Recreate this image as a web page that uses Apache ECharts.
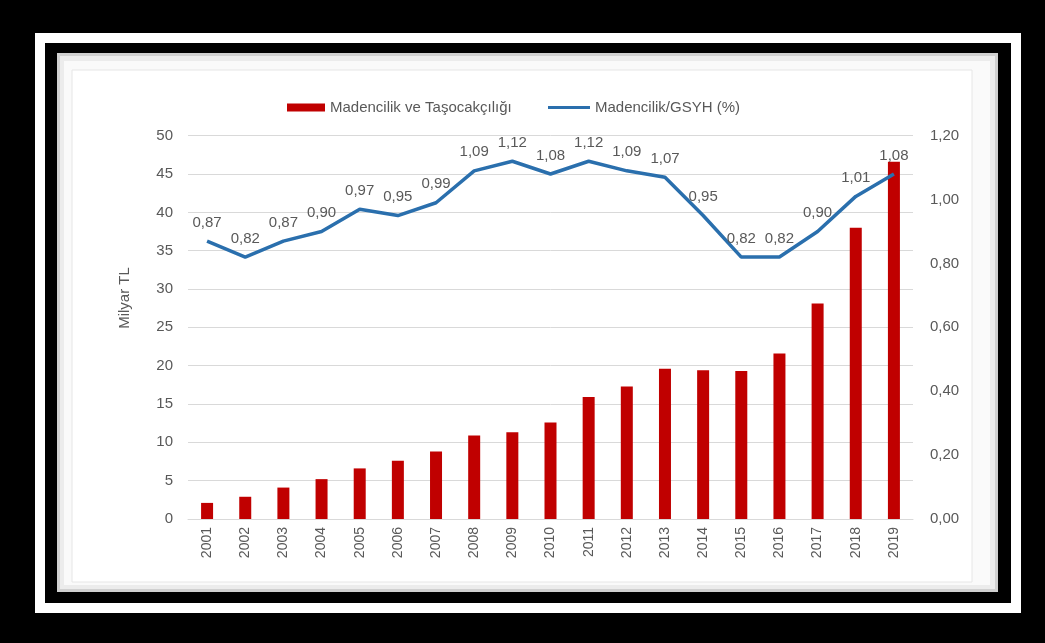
<!DOCTYPE html>
<html lang="tr" style="height: 100%">

<head>
  <meta charset="utf-8">
</head>

<body style="height: 100%; margin: 0; background: #000">
  <div id="container" style="width: 1045px; height: 643px"></div>
  <script type="text/javascript" src="https://fastly.jsdelivr.net/npm/echarts@6/dist/echarts.min.js"></script>
  <script type="text/javascript">
    var dom = document.getElementById('container');
    var myChart = echarts.init(dom, null, { renderer: 'canvas' });

    const years = ['2001', '2002', '2003', '2004', '2005', '2006', '2007', '2008', '2009', '2010',
      '2011', '2012', '2013', '2014', '2015', '2016', '2017', '2018', '2019'];
    // Milyar TL
    const miningValue = [2.1, 2.9, 4.1, 5.2, 6.6, 7.6, 8.8, 10.9, 11.3, 12.6,
      15.9, 17.3, 19.6, 19.4, 19.3, 21.6, 28.1, 38.0, 46.6];
    // Madencilik/GSYH (%)
    const miningShare = [0.87, 0.82, 0.87, 0.90, 0.97, 0.95, 0.99, 1.09, 1.12, 1.08,
      1.12, 1.09, 1.07, 0.95, 0.82, 0.82, 0.90, 1.01, 1.08];

    const barName = 'Madencilik ve Taşocakçılığı';
    const lineName = 'Madencilik/GSYH (%)';
    const grey = '#595959';
    const font = 'Liberation Sans';

    var option = {
      backgroundColor: '#000',
      animation: false,
      textStyle: { fontFamily: font },
      graphic: [
        // white frame line
        { type: 'rect', z: -10, shape: { x: 35, y: 33, width: 986, height: 580 }, style: { fill: '#fff' } },
        { type: 'rect', z: -9, shape: { x: 45, y: 43, width: 966, height: 560 }, style: { fill: '#000' } },
        // chart paper with soft grey edge
        { type: 'rect', z: -8, shape: { x: 57, y: 53, width: 941, height: 539 }, style: { fill: '#d0d0d0' } },
        { type: 'rect', z: -7, shape: { x: 60, y: 56, width: 935, height: 533 }, style: { fill: '#ececec' } },
        { type: 'rect', z: -6, shape: { x: 64, y: 61, width: 926, height: 524 }, style: { fill: '#fafafa' } },
        { type: 'rect', z: -5, shape: { x: 72, y: 70, width: 900, height: 512 },
          style: { fill: '#fff', stroke: '#e6e6e6', lineWidth: 1 } },
        {
          type: 'text', x: 125, y: 298, rotation: Math.PI / 2,
          style: { text: 'Milyar TL', fill: grey, font: '15px "Liberation Sans"', align: 'center', verticalAlign: 'middle' }
        }
      ],
      legend: [
        {
          data: [barName], left: 282, top: 95, icon: 'rect',
          itemWidth: 38, itemHeight: 8, itemGap: 0,
          textStyle: { color: grey, fontSize: 15, fontFamily: font }
        },
        {
          data: [lineName], left: 543, top: 95, icon: 'rect',
          itemWidth: 42, itemHeight: 3, itemGap: 0,
          textStyle: { color: grey, fontSize: 15, fontFamily: font }
        }
      ],
      grid: { left: 188, right: 132, top: 135.7, bottom: 124 },
      xAxis: {
        type: 'category',
        data: years,
        axisLine: { lineStyle: { color: '#d9d9d9' } },
        axisTick: { show: false },
        axisLabel: { rotate: 90, color: grey, fontSize: 14, margin: 8 }
      },
      yAxis: [
        {
          type: 'value', min: 0, max: 50, interval: 5,
          axisLabel: { color: grey, fontSize: 15, margin: 15 },
          splitLine: { lineStyle: { color: '#d9d9d9' } }
        },
        {
          type: 'value', min: 0, max: 1.2, interval: 0.2,
          axisLabel: {
            color: grey, fontSize: 15, margin: 17,
            formatter: v => v.toFixed(2).replace('.', ',')
          },
          splitLine: { show: false }
        }
      ],
      series: [
        {
          name: barName, type: 'bar', data: miningValue,
          barWidth: 12,
          itemStyle: { color: '#c00000' }
        },
        {
          name: lineName, type: 'line', yAxisIndex: 1, data: miningShare,
          symbol: 'circle', symbolSize: 0.1,
          lineStyle: { color: '#2a6fad', width: 3.5 },
          itemStyle: { color: '#2a6fad' },
          labelLayout: { hideOverlap: false },
          label: {
            show: true, position: 'top', distance: 11,
            color: grey, fontSize: 15,
            formatter: p => p.value.toFixed(2).replace('.', ',')
          }
        }
      ]
    };

    myChart.setOption(option);
    window.addEventListener('resize', myChart.resize);
  </script>
</body>

</html>
